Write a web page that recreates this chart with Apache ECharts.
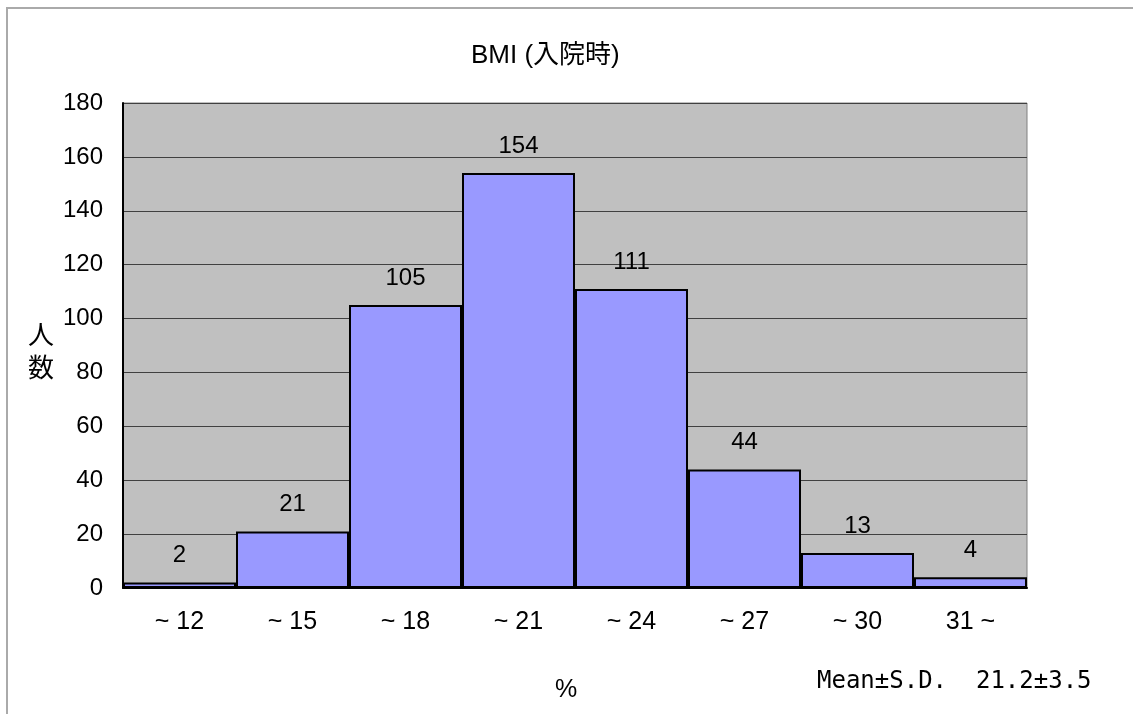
<!DOCTYPE html>
<html>
<head>
    <meta charset="utf-8">
    <title>BMI (入院時)</title>
    <style type="text/css">
        * {
            margin: 0;
            padding: 0;
        }
        body { background: #fff; }
        #main1 {
            width: 1133px;
            height: 714px;
        }
    </style>
</head>
<body>
<div id="main1"></div>
<script src="https://cdn.jsdelivr.net/npm/echarts@6/dist/echarts.min.js" type="text/javascript"></script>
<script type="text/javascript">
    var categories = ['~ 12', '~ 15', '~ 18', '~ 21', '~ 24', '~ 27', '~ 30', '31 ~'];
    var counts = [2, 21, 105, 154, 111, 44, 13, 4];
    var yTicks = [0, 20, 40, 60, 80, 100, 120, 140, 160, 180];

    var font = '"Liberation Sans", Arial, "Noto Sans CJK JP", sans-serif';

    var myChart = echarts.init(document.getElementById('main1'));

    var option = {
        animation: false,
        backgroundColor: '#fff',
        title: {
            text: 'BMI (入院時)',
            left: 466,
            top: 38,
            textStyle: {
                fontFamily: font,
                fontSize: 26,
                fontWeight: 'normal',
                color: '#000'
            }
        },
        grid: {
            left: 123,
            right: 106,
            top: 103,
            bottom: 126,
            show: true,
            backgroundColor: '#c0c0c0',
            borderColor: '#808080',
            borderWidth: 1
        },
        xAxis: {
            type: 'category',
            data: categories,
            axisLine: { lineStyle: { color: '#000', width: 2 } },
            axisTick: { show: false },
            axisLabel: {
                margin: 22,
                fontFamily: font,
                fontSize: 25,
                color: '#000'
            }
        },
        yAxis: {
            type: 'value',
            min: yTicks[0],
            max: yTicks[yTicks.length - 1],
            interval: 20,
            axisLine: { show: true, lineStyle: { color: '#000', width: 2 } },
            axisTick: { show: false },
            splitLine: { lineStyle: { color: '#404040', width: 1 } },
            axisLabel: {
                margin: 20,
                fontFamily: font,
                fontSize: 24,
                color: '#000'
            }
        },
        series: [{
            name: '人数',
            type: 'bar',
            data: counts,
            barWidth: '100%',
            barCategoryGap: 0,
            itemStyle: {
                color: '#9999ff',
                borderColor: '#000',
                borderWidth: 2
            },
            label: {
                show: true,
                position: 'top',
                distance: 15,
                fontFamily: font,
                fontSize: 24,
                color: '#000'
            }
        }],
        graphic: [
            {
                type: 'polyline',
                shape: { points: [[7, 714], [7, 8], [1133, 8]] },
                style: { stroke: '#aaaaaa', lineWidth: 2, fill: null }
            },
            {
                type: 'text',
                left: 28,
                top: 318,
                style: {
                    text: '人\n数',
                    fontFamily: '"Noto Sans CJK JP", sans-serif',
                    fontSize: 26,
                    lineHeight: 33,
                    fill: '#000'
                }
            },
            {
                type: 'text',
                left: 555,
                top: 678,
                style: {
                    text: '%',
                    fontFamily: font,
                    fontSize: 25,
                    fill: '#000'
                }
            },
            {
                type: 'text',
                left: 817,
                top: 670,
                style: {
                    text: 'Mean±S.D.  21.2±3.5',
                    fontFamily: '"DejaVu Sans Mono", "Liberation Mono", monospace',
                    fontSize: 24,
                    fill: '#000'
                }
            }
        ]
    };

    myChart.setOption(option);
</script>
</body>
</html>
